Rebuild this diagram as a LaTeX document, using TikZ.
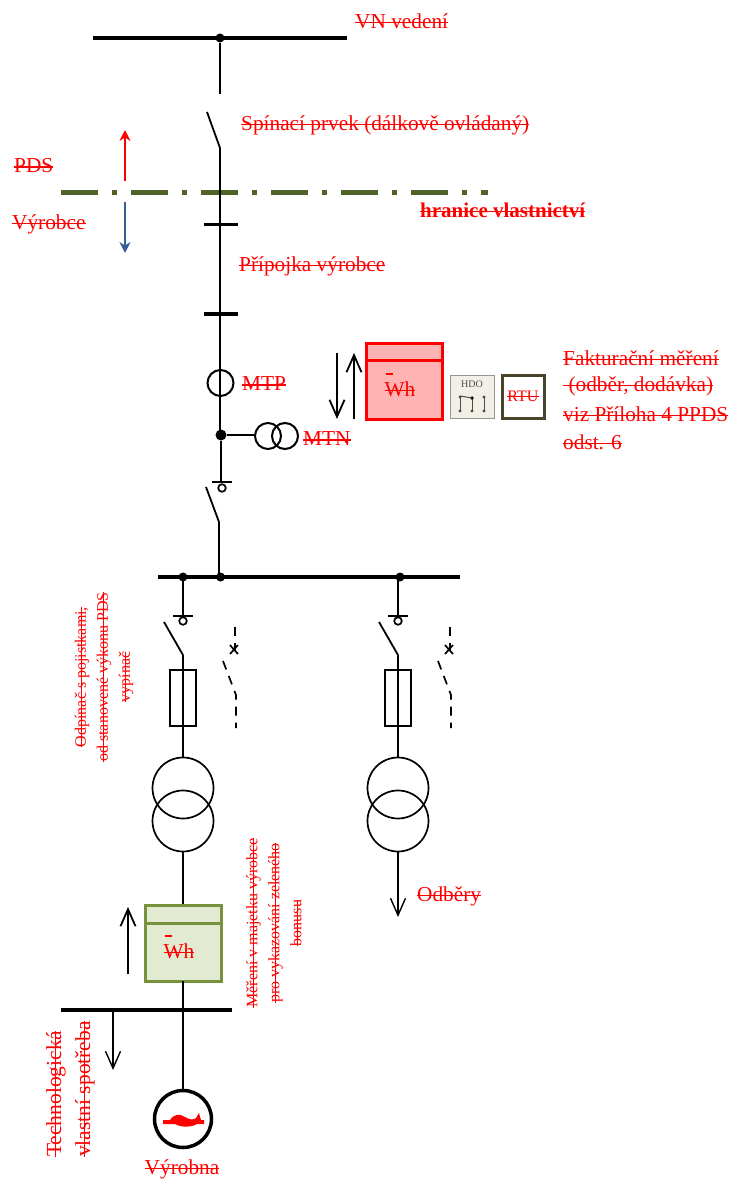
\documentclass[tikz,border=0pt]{standalone}
\usepackage{fontspec}
\setmainfont{Liberation Serif}
\usetikzlibrary{arrows.meta}
\newcommand{\strk}[1]{\setbox0=\hbox{#1}\leavevmode\rlap{\rule[0.24em]{\wd0}{0.065em}}\box0}
\tikzset{
    wire/.style={line width=1.4pt},
    bus/.style={line width=4.5pt},
    joint/.style={circle, fill=black, inner sep=0pt, minimum size=9pt},
    lbl/.style={text=red, font=\fontsize{21.3}{27}\selectfont, inner sep=0pt},
    smalllbl/.style={text=red, font=\fontsize{16}{22}\selectfont, inner sep=0pt, align=center, rotate=90},
    openarrow/.style={-{Straight Barb[length=17pt,width=15pt,line width=1.8pt]}, line width=1.8pt},
    thinarrow/.style={-{Straight Barb[length=17pt,width=15pt,line width=1.4pt]}, line width=1.4pt},
    fusebox/.style={draw, line width=1.5pt},
    meterbox/.style={line width=3pt},
    dashwire/.style={line width=1.7pt, dash pattern=on 9pt off 7pt}
}
% earthing switch with fuse, hung below a busbar
\newcommand{\feeder}[2]{
    \coordinate (#2top) at (#1,577);
    \coordinate (#2hinge) at (#1,655);
    \coordinate (#2blade) at ({#1-19},622);
    \coordinate (#2earth) at (#1,616);
    \draw[wire] (#2top) -- (#2earth);
    \draw[line width=2pt] ({#1-10},616) -- ({#1+10},616);
    \draw[line width=1.7pt] (#1,621) circle (3.8);
    \draw[line width=1.8pt] (#2blade) -- (#2hinge);
    \draw[wire] (#2hinge) -- (#1,757);
    \draw[fusebox] ({#1-13},670) rectangle ({#1+13},726);
    \draw[dashwire] ({#1+52},627) -- ({#1+52},650);
    \draw[line width=1.7pt] ({#1+47},645) -- ({#1+55},654) ({#1+55},645) -- ({#1+47},654);
    \draw[dashwire] ({#1+40},661) -- ({#1+53},695) -- ({#1+53},728);
    \draw[line width=1.7pt] (#1,788) circle (30.5);
    \draw[line width=1.7pt] (#1,821) circle (30.5);
}
% billing meter
\newcommand{\meter}[5]{
    \draw[meterbox, draw=#4, fill=#5] (#1,#2) rectangle ({#1+76},{#2+76});
    \draw[meterbox, draw=#4] (#1,{#2+#3}) -- ({#1+76},{#2+#3});
    \draw[red, line width=1.6pt] ({#1+20},{#2+31}) -- ({#1+27},{#2+31});
    \node[lbl] at ({#1+34},{#2+46}) {\strk{Wh}};
}
\definecolor{bordergreen}{RGB}{79,98,40}
\definecolor{arrowblue}{RGB}{55,96,146}
\definecolor{rtuedge}{RGB}{74,69,42}
\definecolor{hdoedge}{RGB}{150,150,140}
\definecolor{hdofill}{RGB}{242,240,230}
\definecolor{metergreen}{RGB}{118,146,60}
\definecolor{meterfill}{RGB}{227,234,210}
\definecolor{meterred}{RGB}{255,179,179}
\begin{document}
\begin{tikzpicture}[x=1pt, y=-1pt]
    \useasboundingbox (0,0) rectangle (731,1180);

    % top line and switch
    \draw[bus] (93,38) -- (347,38);
    \node[joint] (vn) at (220,38) {};
    \coordinate (swa) at (220,94);
    \coordinate (swb) at (207,112);
    \coordinate (swc) at (220,148);
    \draw[wire] (vn) -- (swa);
    \draw[line width=1.8pt] (swb) -- (swc);
    \node[lbl, anchor=west] at (355,21) {\strk{VN vedení}};
    \node[lbl, anchor=west] at (241,125) {\strk{Spínací prvek (dálkově ovládaný)}};

    % ownership border
    \draw[bordergreen, line width=5pt, dash pattern=on 37pt off 14pt on 5pt off 14pt] (61,192) -- (488,192);
    \draw[-{Stealth[length=11pt,width=11pt]}, red, line width=2.6pt] (125,181) -- (125,130);
    \draw[-{Stealth[length=11pt,width=11pt]}, arrowblue, line width=2.6pt] (125,202) -- (125,253);
    \node[lbl, anchor=west] at (14,166) {\strk{PDS}};
    \node[lbl, anchor=west] at (12,224) {\strk{Výrobce}};
    \node[lbl, anchor=west, font=\fontsize{21}{24}\selectfont\bfseries] at (420,210) {\strk{hranice vlastnictví}};

    % connection
    \coordinate (mtp) at (220.5,383);
    \node[joint, minimum size=11pt] (mid) at (221,435) {};
    \draw[wire] (swc) -- (swc |- mid);
    \draw[line width=3.5pt] (204,224.5) -- (238,224.5);
    \draw[line width=3.5pt] (204,314) -- (238,314);
    \node[lbl, anchor=west] at (239,266) {\strk{Přípojka výrobce}};
    \draw[line width=2pt] (mtp) circle (13);
    \node[lbl, anchor=west] at (242,384) {\strk{MTP}};
    \coordinate (mtnl) at (255,435);
    \draw[wire] (mid) -- (mtnl);
    \draw[line width=2pt] (268,436) circle (13);
    \draw[line width=2pt] (285,436) circle (13);
    \node[lbl, anchor=west] at (303,439) {\strk{MTN}};

    % billing metering
    \draw[openarrow] (337,353) -- (337,419);
    \draw[openarrow] (354,419) -- (354,353);
    \meter{366}{343}{17}{red}{meterred}
    \draw[hdoedge, fill=hdofill] (450,375) rectangle (494,418);
    \node[font=\fontsize{10}{10}\selectfont, color=black!70, inner sep=0pt] at (472,384) {HDO};
    \foreach \cx in {460,472,484} {
        \draw[color=black!70, line width=1pt] (\cx,398) -- (\cx,411);
        \fill[color=black!70] (\cx,411) circle (1.6);
    }
    \fill[color=black!70] (460,397) circle (1.6);
    \fill[color=black] (472,398) circle (1.8);
    \fill[color=black!70] (484,397) circle (1.6);
    \draw[color=black!70, line width=1pt] (460,396) -- (472,398);
    \draw[rtuedge, line width=3pt] (502,375) rectangle (544,418);
    \node[lbl, font=\fontsize{16}{16}\selectfont] at (523,396) {\strk{RTU}};
    \node[lbl, anchor=west] at (563,358) {\strk{Fakturační měření}};
    \node[lbl, anchor=west] at (563,386) {\strk{\ (odběr, dodávka)}};
    \node[lbl, anchor=west] at (563,414) {\strk{viz Příloha 4 PPDS}};
    \node[lbl, anchor=west] at (563,442) {\strk{odst. 6}};

    % earthing and main disconnector
    \coordinate (esw) at (221,482);
    \coordinate (eswb) at (206,487);
    \coordinate (eswc) at (219,522);
    \node[joint] (busm) at (220.5,577) {};
    \draw[wire] (mid) -- (mid |- esw);
    \draw[line width=2pt] (212,482) -- (232,482);
    \draw[line width=1.7pt] (222,488) circle (3.8);
    \draw[line width=1.8pt] (eswb) -- (eswc);
    \draw[wire] (eswc) -- (eswc |- busm);

    % main bus
    \draw[bus] (158,577) -- (460,577);
    \node[joint] (busl) at (183,577) {};
    \node[joint] (busr) at (400,577) {};

    % feeders
    \feeder{183}{gen}
    \feeder{398}{con}
    \node[smalllbl] at (104,677) {\strk{Odpínač s pojistkami,}\\\strk{od stanovené výkonu PDS}\\\strk{vypínač}};
    \coordinate (conend) at (398,851);
    \coordinate (contip) at (398,917);
    \draw[thinarrow] (conend) -- (contip);
    \node[lbl, anchor=west] at (417,896) {\strk{Odběry}};

    % generator branch
    \coordinate (genend) at (183,851);
    \coordinate (genmeter) at (183,905);
    \draw[wire] (genend) -- (genmeter);
    \meter{145}{905}{18}{metergreen}{meterfill}
    \draw[openarrow] (128,974) -- (128,907);
    \node[smalllbl] at (274,923) {\strk{Měření v majetku výrobce}\\\strk{pro vykazování zeleného}\\\strk{bonusu}};
    \coordinate (genbot) at (183,981);
    \coordinate (gentop) at (183,1089);
    \draw[wire] (genbot) -- (gentop);
    \draw[bus] (61,1010) -- (232,1010);
    \draw[thinarrow] (113,1012) -- (113,1070);
    \draw[line width=3.5pt] (183,1119) circle (28.5);
    \fill[red] (163,1120) -- (170,1120) .. controls (175,1113) and (180,1114) .. (185,1117)
        .. controls (190,1120) and (194,1120) .. (196,1118) -- (199,1113) -- (201,1120) -- (204,1120)
        -- (204,1124) -- (197,1124) .. controls (190,1128) and (180,1127) .. (175,1124) -- (163,1124) -- cycle;
    \node[lbl] at (182,1169) {\strk{Výrobna}};
    \node[lbl, rotate=90, anchor=north west, align=left, font=\fontsize{21.5}{29}\selectfont] at (46,1157) {\strk{Technologická}\\\strk{vlastní spotřeba}};
\end{tikzpicture}
\end{document}
